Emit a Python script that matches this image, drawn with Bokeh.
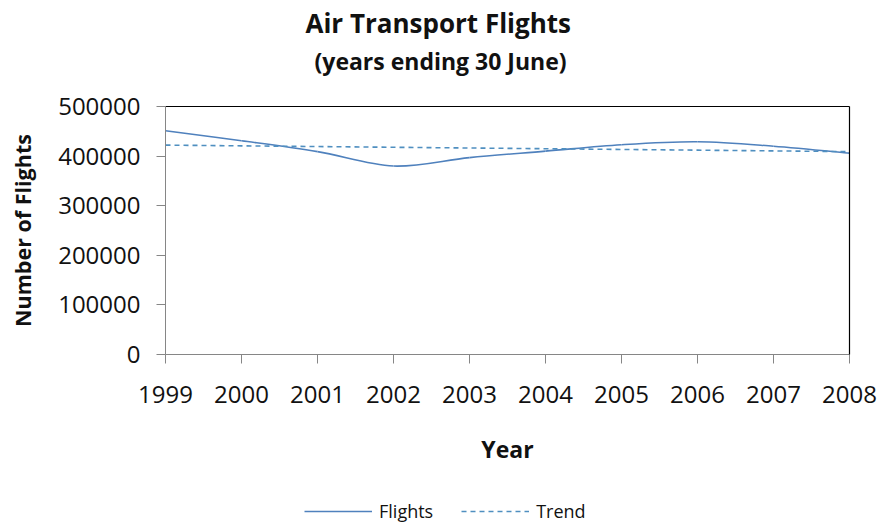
import numpy as np
from bokeh.plotting import figure
from bokeh.layouts import column
from bokeh.models import (Range1d, LinearAxis, Title, Legend, LegendItem,
                          FixedTicker, ColumnDataSource)
from bokeh.embed import file_html
from bokeh.resources import INLINE

# ---- data ----
years = [1999, 2000, 2001, 2002, 2003, 2004, 2005, 2006, 2007, 2008]
flights = [451000, 431000, 409000, 380000, 397000, 410000, 423000, 429000, 420000, 406000]
y_ticks = [0, 100000, 200000, 300000, 400000, 500000]

title_text = "Air Transport Flights"
subtitle_text = "(years ending 30 June)"
x_label = "Year"
y_label = "Number of Flights"

FONT = "Open Sans"
FLIGHT_COLOR = "#4F81BD"
TREND_COLOR = "#4F8FC0"
AXIS_GREY = "#868686"
TEXT_COLOR = "#111111"

p = figure(width=880, height=497, output_backend="svg", toolbar_location=None,
           x_range=Range1d(years[0], years[-1]), y_range=Range1d(0, 500000),
           min_border_left=165, min_border_right=31, min_border_top=105,
           min_border_bottom=143)
p.outline_line_color = None
p.xgrid.grid_line_color = None
p.ygrid.grid_line_color = None
p.background_fill_color = "white"
p.border_fill_color = "white"

# smoothed line (Catmull-Rom style bezier segments, like a spreadsheet's smoothed line)
xa = np.array(years, dtype=float)
ya = np.array(flights, dtype=float)
xp = np.concatenate([[xa[0]], xa, [xa[-1]]])
yp = np.concatenate([[ya[0]], ya, [ya[-1]]])
n = len(xa)
cx0 = xa[:-1] + (xp[2:n + 1] - xp[0:n - 1]) / 6.0
cy0 = ya[:-1] + (yp[2:n + 1] - yp[0:n - 1]) / 6.0
cx1 = xa[1:] - (xp[3:n + 2] - xp[1:n]) / 6.0
cy1 = ya[1:] - (yp[3:n + 2] - yp[1:n]) / 6.0
src = ColumnDataSource(dict(x0=xa[:-1], y0=ya[:-1], x1=xa[1:], y1=ya[1:],
                            cx0=cx0, cy0=cy0, cx1=cx1, cy1=cy1))
bez_kw = dict(x0="x0", y0="y0", x1="x1", y1="y1", cx0="cx0", cy0="cy0",
              cx1="cx1", cy1="cy1", source=src, line_color=FLIGHT_COLOR,
              line_width=1.6)
p.bezier(**bez_kw)

# linear trend line
coef = np.polyfit(xa, ya, 1)
trend = np.polyval(coef, xa)
trend_kw = dict(line_color=TREND_COLOR, line_width=1.6, line_dash="5 4")
p.line(years, trend, **trend_kw)

# axes
for ax in (p.xaxis[0], p.yaxis[0]):
    ax.axis_line_color = AXIS_GREY
    ax.major_tick_line_color = AXIS_GREY
    ax.minor_tick_line_color = None
    ax.major_tick_in = 0
    ax.major_tick_out = 9
    ax.major_label_text_font = FONT
    ax.major_label_text_font_size = "24px"
    ax.major_label_text_color = TEXT_COLOR
    ax.axis_label_text_font = FONT
    ax.axis_label_text_font_style = "bold"
    ax.axis_label_text_color = TEXT_COLOR

p.xaxis[0].ticker = FixedTicker(ticks=years)
p.xaxis[0].major_label_standoff = 22
p.xaxis[0].axis_label = x_label
p.xaxis[0].axis_label_text_font_size = "23px"
p.xaxis[0].axis_label_standoff = 27

p.yaxis[0].ticker = FixedTicker(ticks=y_ticks)
p.yaxis[0].formatter.use_scientific = False
p.yaxis[0].major_label_standoff = 16
p.yaxis[0].axis_label = y_label
p.yaxis[0].axis_label_text_font_size = "21.5px"
p.yaxis[0].axis_label_standoff = 18

# black top and right frame edges
top_ax = LinearAxis(axis_line_color="black", axis_line_width=1.2,
                    major_tick_line_color=None, minor_tick_line_color=None,
                    major_tick_out=38,
                    major_label_text_font_size="0px", ticker=FixedTicker(ticks=[]))
right_ax = LinearAxis(axis_line_color="black", axis_line_width=1.2,
                      major_tick_line_color=None, minor_tick_line_color=None,
                      major_label_text_font_size="0px", ticker=FixedTicker(ticks=[]))
p.add_layout(top_ax, "above")
p.add_layout(right_ax, "right")

# titles (first added is nearest the plot); a blank title acts as a spacer
p.add_layout(Title(text=" ", text_font=FONT, text_font_size="14px",
                   standoff=9), "above")
p.add_layout(Title(text=subtitle_text, align="left", offset=149, text_font=FONT,
                   text_font_size="23px", text_font_style="bold",
                   text_color=TEXT_COLOR, standoff=0), "above")
p.add_layout(Title(text=title_text, align="left", offset=140, text_font=FONT,
                   text_font_size="26px", text_font_style="bold",
                   text_color=TEXT_COLOR, standoff=4), "above")

# legend strip below the chart
p2 = figure(width=880, height=30, output_backend="svg", toolbar_location=None,
            x_range=Range1d(0, 1), y_range=Range1d(0, 1),
            x_axis_location=None, y_axis_location=None,
            min_border_left=0, min_border_right=0, min_border_top=0,
            min_border_bottom=0)
p2.outline_line_color = None
p2.xgrid.grid_line_color = None
p2.ygrid.grid_line_color = None
p2.border_fill_color = "white"
lg_flights = p2.bezier(**bez_kw)
lg_trend = p2.line(years, trend, **trend_kw)

legend = Legend(items=[LegendItem(label="Flights", renderers=[lg_flights]),
                       LegendItem(label="Trend", renderers=[lg_trend])],
                orientation="horizontal", location=(139, 4),
                label_text_font=FONT, label_text_font_size="18px",
                label_text_color=TEXT_COLOR, glyph_width=68, glyph_height=20,
                label_standoff=7, spacing=28, padding=0, margin=0,
                border_line_color=None, background_fill_alpha=0)
p2.add_layout(legend, "center")

layout = column(p, p2, spacing=0)
open("out.html", "w").write(file_html(layout, INLINE))
